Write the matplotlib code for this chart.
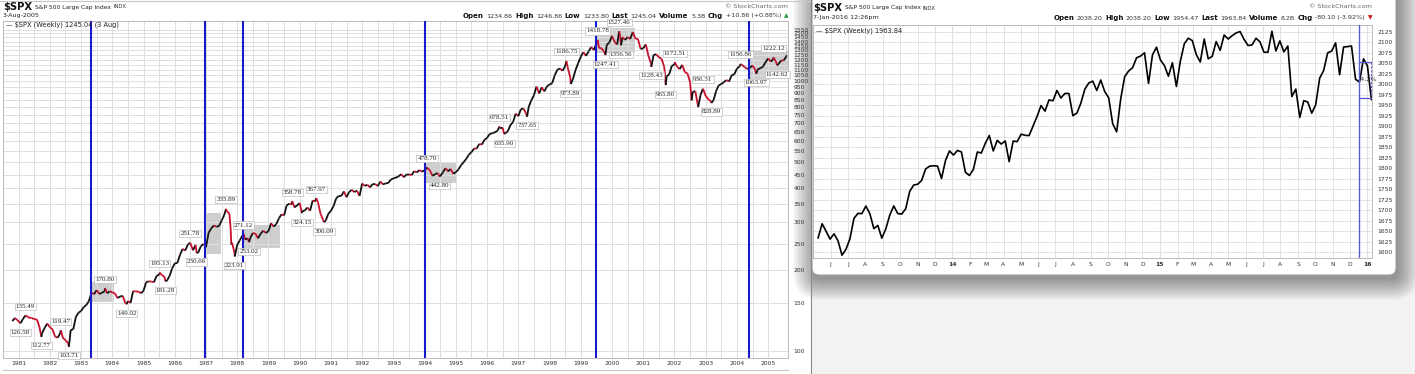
import numpy as np
import pandas as pd
import matplotlib
matplotlib.use("Agg")
import matplotlib.pyplot as plt
from matplotlib.collections import LineCollection
from matplotlib.patches import Rectangle, FancyBboxPatch
from matplotlib.ticker import NullLocator, NullFormatter

plt.rcParams['text.parse_math'] = False
W, H = 1415, 374

# ---------- left panel: $SPX weekly, 1981 - Aug 2005 ----------
# month-end closes, Apr 1981 .. Jul 2005
month_close = [
    132.81, 132.59, 131.21, 130.92, 122.79, 116.18, 121.89, 126.35, 122.55,
    120.40, 113.11, 111.96, 116.44, 111.88, 109.61, 107.09, 119.51, 120.42, 133.71, 138.54, 140.64,
    145.30, 148.06, 152.96, 164.42, 162.39, 168.11, 162.56, 164.40, 166.07, 163.55, 166.40, 164.93,
    163.41, 157.06, 159.18, 160.05, 150.55, 153.18, 150.66, 166.68, 166.10, 166.09, 163.58, 167.24,
    179.63, 181.18, 180.66, 179.83, 189.55, 191.85, 190.92, 188.63, 182.08, 189.82, 202.17, 211.28,
    211.78, 226.92, 238.90, 235.52, 247.35, 250.84, 236.12, 247.00, 231.32, 243.98, 249.22, 242.17,
    274.08, 284.20, 291.70, 288.36, 290.10, 304.00, 318.66, 329.80, 321.83, 251.79, 230.30, 247.08,
    257.07, 267.82, 258.89, 261.33, 262.16, 273.50, 272.02, 261.52, 271.91, 278.97, 273.70, 277.72,
    297.47, 288.86, 294.87, 309.64, 320.52, 317.98, 346.08, 351.45, 349.15, 340.36, 345.99, 353.40,
    329.08, 331.89, 339.94, 330.80, 361.23, 358.02, 356.15, 322.56, 306.05, 304.00, 322.22, 330.22,
    343.93, 367.07, 375.22, 375.35, 389.83, 371.16, 387.81, 395.43, 387.86, 392.46, 375.22, 417.09,
    408.79, 412.70, 403.69, 414.95, 415.35, 408.14, 424.21, 414.03, 417.80, 418.68, 431.35, 435.71,
    438.78, 443.38, 451.67, 440.19, 450.19, 450.53, 448.13, 463.56, 458.93, 467.83, 461.79, 466.45,
    476.00, 467.14, 445.77, 450.91, 456.50, 444.27, 458.26, 475.49, 462.69, 472.35, 453.69, 459.27,
    470.42, 487.39, 500.71, 514.71, 533.40, 544.75, 562.06, 561.88, 584.41, 581.50, 605.37, 615.93,
    636.02, 640.43, 645.50, 654.17, 669.12, 670.63, 639.95, 651.99, 687.31, 705.27, 757.02, 740.74,
    786.16, 790.82, 757.12, 801.34, 848.28, 885.14, 954.29, 899.47, 947.28, 914.62, 955.40, 970.43,
    980.28, 1049.34, 1101.75, 1111.75, 1090.82, 1133.84, 1120.67, 1027.14, 1017.01, 1098.67, 1163.63, 1229.23,
    1279.64, 1238.33, 1286.37, 1335.18, 1301.84, 1372.71, 1328.72, 1320.41, 1282.71, 1362.93, 1388.91, 1469.25,
    1394.46, 1366.42, 1498.58, 1452.43, 1420.60, 1454.60, 1430.83, 1517.68, 1436.51, 1429.40, 1314.95, 1320.28,
    1366.01, 1239.94, 1160.33, 1249.46, 1255.82, 1224.42, 1211.23, 1133.58, 1040.94, 1059.78, 1139.45, 1148.08,
    1130.20, 1106.73, 1147.39, 1076.92, 1067.14, 989.82, 911.62, 916.07, 815.28, 885.76, 936.31, 879.82,
    855.70, 841.15, 848.18, 916.92, 963.59, 974.50, 990.31, 1008.01, 995.97, 1050.71, 1058.20, 1111.92,
    1131.13, 1144.94, 1126.21, 1107.30, 1120.68, 1140.84, 1101.72, 1104.24, 1114.58, 1130.20, 1173.82, 1211.92,
    1181.27, 1203.60, 1180.59, 1156.85, 1191.50, 1191.33, 1234.18,
]

# extra weekly points (decimal year)
extra_dates = [1980.80, 1980.88, 1980.96, 1981.14, 1987.79, 1987.81, 2001.69, 2002.55, 2002.76, 2005.59]
extra_vals = [129.0, 132.5, 130.2, 131.5, 282.70, 248.22, 1085.78, 847.75, 800.58, 1245.04]

# labelled swing points: +1 label above, -1 label below
pk_dates = [1981.06, 1981.22, 1981.73, 1982.35, 1982.61, 1983.77, 1984.46, 1985.52, 1985.70,
            1986.49, 1986.70, 1987.64, 1987.92, 1988.21, 1988.38, 1989.76, 1990.07, 1990.53,
            1990.78, 1994.08, 1994.48, 1996.40, 1996.55, 1997.28, 1998.54, 1998.68, 1999.54,
            1999.79, 2000.23, 2000.29, 2001.26, 2001.72, 2002.01, 2002.91, 2003.18, 2004.12,
            2004.62, 2005.17, 2005.29]
pk_vals = [126.58, 135.49, 112.77, 119.47, 103.71, 170.80, 149.02, 195.13, 181.28,
           251.78, 230.66, 335.89, 223.91, 271.12, 253.02, 358.78, 324.15, 367.97,
           300.09, 478.70, 442.80, 678.51, 635.90, 737.65, 1186.75, 973.89, 1418.78,
           1247.41, 1527.46, 1356.56, 1128.43, 965.80, 1172.51, 936.31, 828.89, 1156.86,
           1063.97, 1222.12, 1142.62]
pk_side = [-1, 1, -1, 1, -1, 1, -1, 1, -1,
           1, -1, 1, -1, 1, -1, 1, -1, 1,
           -1, 1, -1, 1, -1, -1, 1, -1, 1,
           -1, 1, -1, -1, -1, 1, 1, -1, 1,
           -1, 1, -1]

# rate-hike lines and shaded boxes
hike_dates = [1983.31, 1986.98, 1988.19, 1994.01, 1999.49, 2004.40]
box_end = [1984.04, 1987.49, 1989.36, 1995.00, 2000.73, 2005.64]
box_low = [152, 229, 241, 419, 1270, 1015]
box_high = [180, 324, 293, 497, 1571, 1303]

years = list(range(1981, 2006))
ytick_left = list(range(100, 1551, 50))

# ---------- right panel: $SPX weekly, May 2013 - Jan 2016 ----------
wk_close = [
    1633.70, 1667.47, 1649.60, 1630.74, 1643.38, 1626.73, 1592.43, 1606.28, 1631.89, 1680.19,
    1692.09, 1691.65, 1709.67, 1691.42, 1655.83, 1663.50, 1632.97, 1655.17, 1687.99, 1709.91,
    1691.75, 1690.50, 1703.20, 1744.50, 1759.77, 1761.64, 1770.61, 1798.18, 1804.76, 1805.81,
    1805.09, 1775.32, 1818.32, 1841.40,
    1831.37, 1842.37, 1838.70, 1790.29, 1782.59, 1797.02, 1838.63, 1836.25, 1859.45, 1878.04,
    1841.13, 1866.52, 1857.62, 1865.09, 1815.69, 1864.85, 1863.40, 1881.14, 1878.48, 1877.86,
    1900.53, 1923.57, 1949.44, 1936.16, 1962.87, 1960.96, 1985.44, 1967.57, 1978.22, 1978.34,
    1925.15, 1931.59, 1955.06, 1988.40, 2003.37, 2007.71, 1985.54, 2010.40, 1982.85, 1967.90,
    1906.13, 1886.76, 1964.58, 2018.05, 2031.92, 2039.82, 2063.50, 2067.56, 2075.37, 2002.33,
    2070.65, 2088.77,
    2058.20, 2044.81, 2019.42, 2051.82, 1994.99, 2055.47, 2096.99, 2110.30, 2104.50, 2071.26,
    2053.40, 2108.10, 2061.02, 2066.96, 2102.06, 2081.18, 2117.69, 2108.29, 2116.10, 2122.73,
    2126.06, 2107.39, 2092.83, 2094.11, 2109.99, 2101.49, 2076.78, 2076.62, 2126.64, 2079.65,
    2103.84, 2077.57, 2091.54, 1970.89, 1988.87, 1921.22, 1961.05, 1958.08, 1931.34, 1951.36,
    2014.89, 2033.11, 2075.15, 2079.36, 2099.20, 2023.04, 2089.17, 2090.11, 2091.69, 2012.37,
    2005.55, 2060.99, 2043.94,
    1963.84,
]
ytick_right = list(range(1600, 2126, 25))

# ---------- figure ----------
fig = plt.figure(figsize=(W / 100, H / 100), dpi=100)


def px_rect(x0, y0, x1, y1):
    return [x0 / W, 1 - y1 / H, (x1 - x0) / W, (y1 - y0) / H]


def rich(x, y, parts, align='left'):
    r = fig.canvas.get_renderer()
    seq = parts if align == 'left' else parts[::-1]
    for s, size, bold, color in seq:
        t = fig.text(x / W, 1 - y / H, s, ha=align, va='center', fontsize=size,
                     fontweight='bold' if bold else 'normal', color=color)
        w = t.get_window_extent(r).width
        x = x + w + 2.5 if align == 'left' else x - w - 2.5


# background, shadow and the second window
bg = fig.add_axes([0, 0, 1, 1], zorder=0)
bg.set_xlim(0, W)
bg.set_ylim(H, 0)
bg.axis('off')
bg.add_patch(Rectangle((811, 0), W - 811, H, fc='#f2f2f2', ec='none'))
for k in range(14):
    p = 1.6 * k
    bg.add_patch(FancyBboxPatch((814 - p, -15 - p), 584 + 2 * p, 294 + 2 * p,
                                boxstyle='round,pad=0,rounding_size=%g' % (7 + p),
                                fc='black', ec='none', alpha=0.03))
bg.plot([811, 811], [0, H], color='#8a8a8a', lw=0.8)
bg.add_patch(FancyBboxPatch((812, -20), 584, 295, boxstyle='round,pad=0,rounding_size=7',
                            fc='white', ec='#a0a0a0', lw=0.8))
bg.plot([3, 788], [370, 370], color='#c8c8c8', lw=0.8)
bg.plot([0, 810], [0.5, 0.5], color='#c8c8c8', lw=0.8)

# ---------- left chart ----------
ax1 = fig.add_axes(px_rect(3, 21, 788, 358), zorder=1)
m_dates = [1981 + (4 + i) / 12 for i in range(len(month_close))]
all_d = np.array(extra_dates + m_dates + pk_dates)
all_v = np.array(extra_vals + month_close + pk_vals)
order = np.argsort(all_d)
all_d, all_v = all_d[order], all_v[order]

ax1.set_yscale('log')
ax1.set_xlim(1980.778, 2005.636)
ax1.set_ylim(94.2, 1668)

for x0, x1, lo, hi in zip(hike_dates, box_end, box_low, box_high):
    ax1.add_patch(Rectangle((x0, lo), x1 - x0, hi - lo, fc='#c9c9c9', ec='none', alpha=0.9, zorder=1))

pts = np.column_stack([all_d, all_v])
segs = np.stack([pts[:-1], pts[1:]], axis=1)
cols = ['#111111' if b >= a else '#c8102e' for a, b in zip(all_v[:-1], all_v[1:])]
ax1.add_collection(LineCollection(segs, colors=cols, linewidths=1.3, zorder=3))

for d in hike_dates:
    ax1.axvline(d, color='#1a1acd', lw=1.5, zorder=4)

for d, v, s in zip(pk_dates, pk_vals, pk_side):
    ax1.annotate('%.2f' % v, (d, v), xytext=(0, 9 * s), textcoords='offset pixels',
                 ha='center', va='center', fontsize=5, family='Liberation Serif', color='#222222',
                 bbox=dict(boxstyle='square,pad=0.15', fc='white', ec='#bdbdbd', lw=0.5), zorder=5)

ax1.set_yticks(ytick_left, labels=[str(v) for v in ytick_left])
ax1.yaxis.set_minor_locator(NullLocator())
ax1.yaxis.set_minor_formatter(NullFormatter())
ax1.yaxis.tick_right()
ax1.tick_params(axis='y', length=0, pad=4, labelsize=4.3, labelcolor='#333333')
ax1.set_xticks(years, labels=[str(y) for y in years])
ax1.set_xticks([y + 0.5 for y in years[:-1]] + [1980.5], minor=True)
ax1.tick_params(axis='x', which='both', length=0, pad=2, labelsize=4.3, labelcolor='#333333')
ax1.grid(which='major', color='#dedede', lw=0.7, zorder=0)
ax1.grid(which='minor', axis='x', color='#dedede', lw=0.7, zorder=0)
for sp in ax1.spines.values():
    sp.set_color('#bbbbbb')
    sp.set_linewidth(0.7)

# ---------- right chart ----------
ax2 = fig.add_axes(px_rect(813, 25, 1372, 258), zorder=2)
wk_dates = pd.date_range('2013-05-10', periods=len(wk_close), freq='W-FRI')
ax2.plot(wk_dates, wk_close, color='black', lw=1.2, zorder=3)
ax2.set_xlim(pd.Timestamp('2013-05-01'), pd.Timestamp('2016-01-09'))
ax2.set_ylim(1585.7, 2141.7)

months = pd.date_range('2013-06-01', '2016-01-01', freq='MS')
mlabels = [('%02d' % (m.year % 100)) if m.month == 1 else 'JFMAMJJASOND'[m.month - 1] for m in months]
ax2.set_xticks(months, labels=mlabels)
for lab, m in zip(ax2.get_xticklabels(), months):
    if m.month == 1:
        lab.set_fontweight('bold')
ax2.set_yticks(ytick_right, labels=[str(v) for v in ytick_right])
ax2.yaxis.tick_right()
ax2.tick_params(axis='y', length=0, pad=4, labelsize=4.3, labelcolor='#333333')
ax2.tick_params(axis='x', length=0, pad=3, labelsize=4.3, labelcolor='#333333')
ax2.grid(color='#e2e2e2', lw=0.7, zorder=0)
for m in months:
    if m.month == 1:
        ax2.axvline(m, color='#c2c2c2', lw=0.8, zorder=1)
for sp in ax2.spines.values():
    sp.set_color('#bbbbbb')
    sp.set_linewidth(0.7)

hike_right = pd.Timestamp('2015-12-18')
ax2.axvline(hike_right, color='#5a5ad2', lw=1.0, zorder=4)
ax2.plot([hike_right, pd.Timestamp('2016-01-09')], [2053, 2053], color='#5a5ad2', lw=0.9, zorder=4)
ax2.plot([hike_right, pd.Timestamp('2016-01-09')], [1967, 1967], color='#5a5ad2', lw=0.9, zorder=4)
ax2.plot([pd.Timestamp('2016-01-07')] * 2, [2053, 1967], color='#5a5ad2', lw=0.8, ls=(0, (2, 1.5)), zorder=4)
ax2.text(pd.Timestamp('2016-01-01'), 2012, '-4.2%', fontsize=4.6, color='#333333',
         ha='center', va='center', zorder=5)

# ---------- header texts ----------
rich(3, 7, [('$SPX', 7.2, True, '#111111'), ('S&P 500 Large Cap Index', 4.3, False, '#222222'),
            ('INDX', 3.8, False, '#333333')])
fig.text(3 / W, 1 - 16 / H, '3-Aug-2005', fontsize=4.6, va='center', color='#222222')
fig.text(6 / W, 1 - 25 / H, '— $SPX (Weekly) 1245.04 (3 Aug)', fontsize=4.8, va='center', color='#222222')
fig.text(788 / W, 1 - 6 / H, '© StockCharts.com', fontsize=4.6, ha='right', va='center', color='#666666')
rich(788, 16, [('Open', 5, True, '#111'), ('1234.86', 4.6, False, '#333'), ('High', 5, True, '#111'),
               ('1246.86', 4.6, False, '#333'), ('Low', 5, True, '#111'), ('1233.80', 4.6, False, '#333'),
               ('Last', 5, True, '#111'), ('1245.04', 4.6, False, '#333'), ('Volume', 5, True, '#111'),
               ('5.3B', 4.6, False, '#333'), ('Chg', 5, True, '#111'), ('+10.86 (+0.88%)', 4.6, False, '#333'),
               ('▲', 4.2, False, '#1a9a3a')], align='right')

rich(813, 8, [('$SPX', 7.2, True, '#111111'), ('S&P 500 Large Cap Index', 4.3, False, '#222222'),
              ('INDX', 3.8, False, '#333333')])
fig.text(813 / W, 1 - 18 / H, '7-Jan-2016 12:26pm', fontsize=4.6, va='center', color='#222222')
fig.text(816 / W, 1 - 31 / H, '— $SPX (Weekly) 1963.84', fontsize=4.8, va='center', color='#222222')
fig.text(1372 / W, 1 - 7 / H, '© StockCharts.com', fontsize=4.6, ha='right', va='center', color='#666666')
rich(1372, 18, [('Open', 5, True, '#111'), ('2038.20', 4.6, False, '#333'), ('High', 5, True, '#111'),
                ('2038.20', 4.6, False, '#333'), ('Low', 5, True, '#111'), ('1954.47', 4.6, False, '#333'),
                ('Last', 5, True, '#111'), ('1963.84', 4.6, False, '#333'), ('Volume', 5, True, '#111'),
                ('8.2B', 4.6, False, '#333'), ('Chg', 5, True, '#111'), ('-80.10 (-3.92%)', 4.6, False, '#333'),
                ('▼', 4.2, False, '#cc1111')], align='right')

fig.savefig('out.png', dpi=100)
